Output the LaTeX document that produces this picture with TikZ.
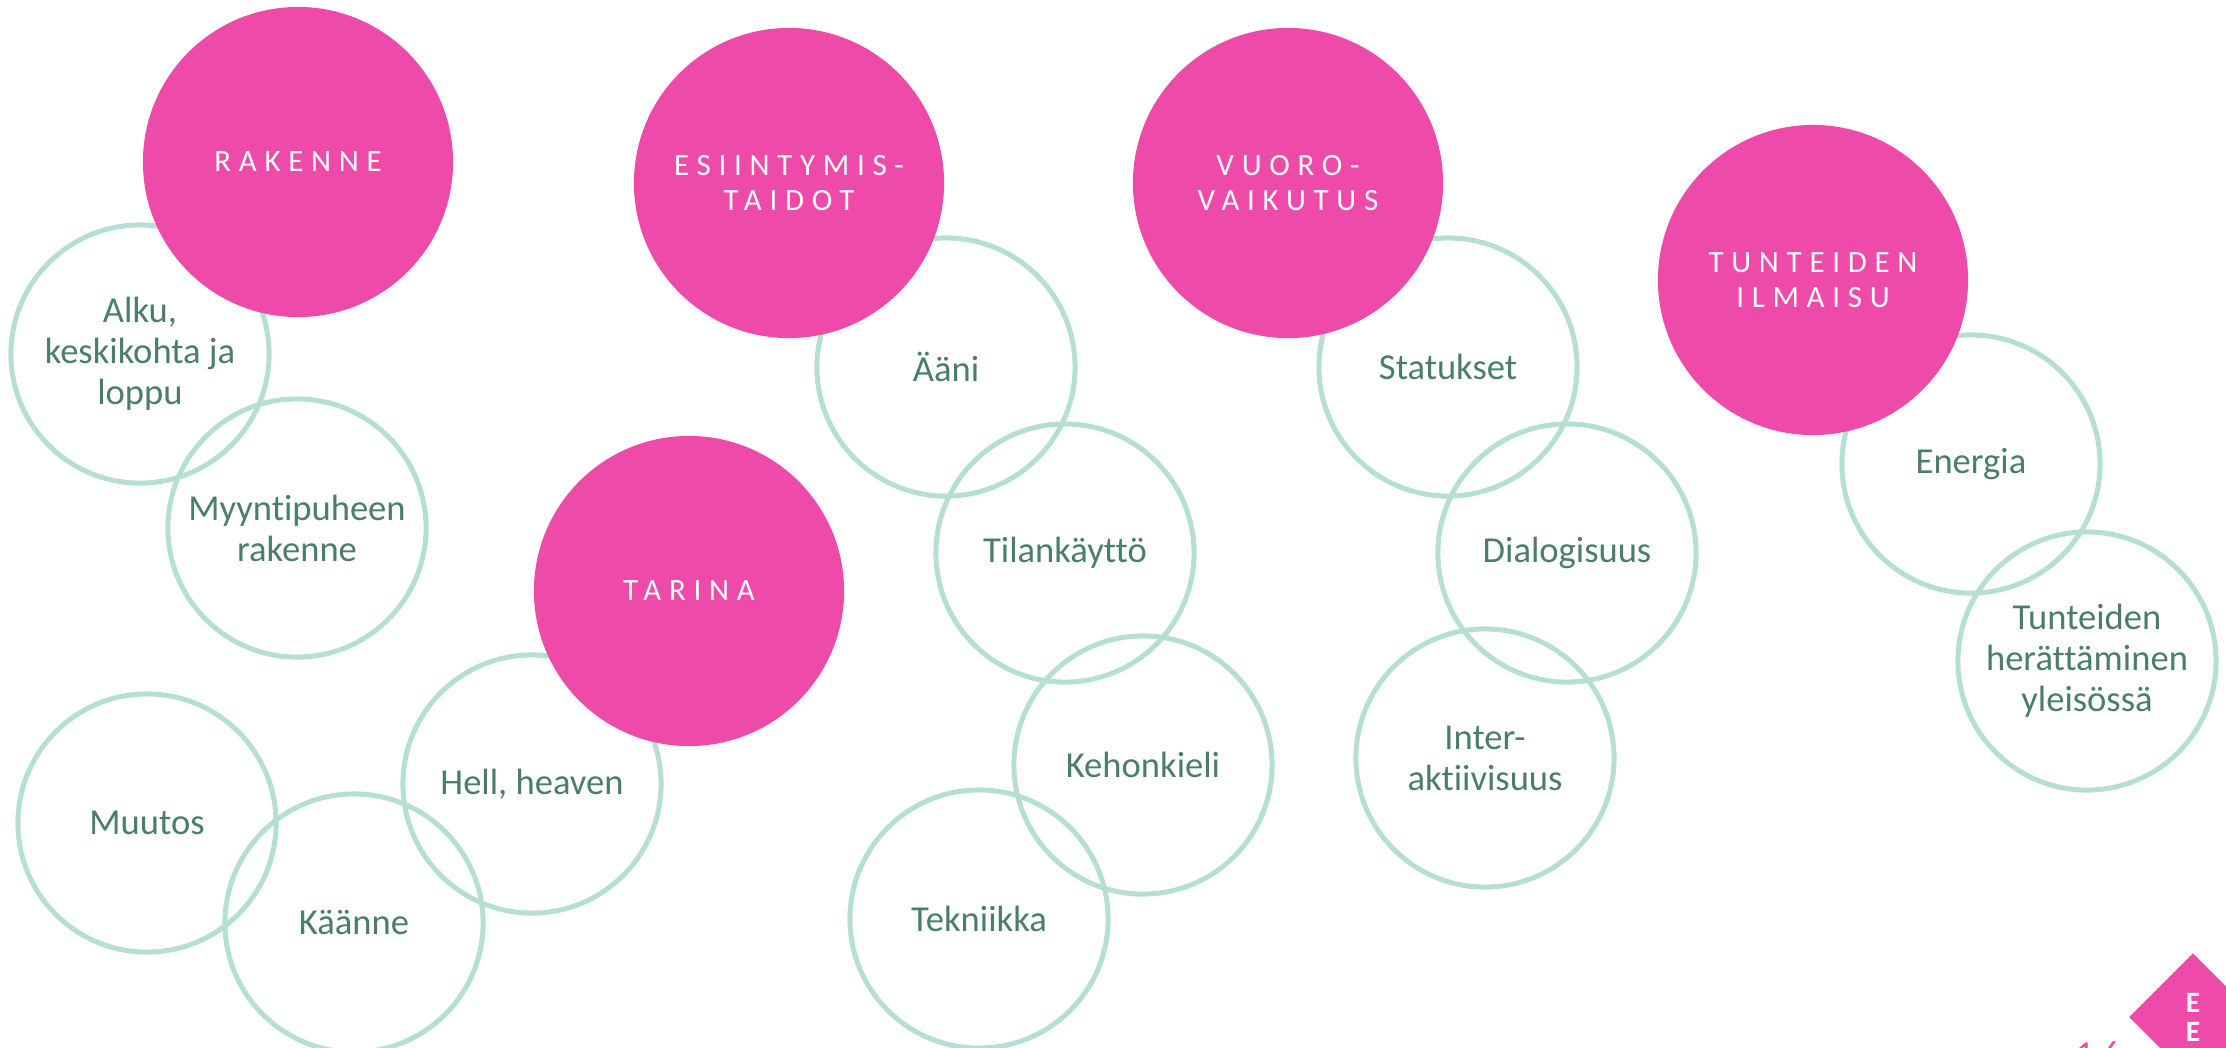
\documentclass[tikz,border=0pt]{standalone}
\usepackage{fontspec}
\usetikzlibrary{shapes.geometric}
\setmainfont{Carlito}[Ligatures={NoCommon,NoRequired}]
\newfontfamily\capsfont[LetterSpace=25]{Carlito}
\definecolor{pinkfill}{HTML}{EE4AA9}
\definecolor{mintline}{HTML}{B5DFD2}
\definecolor{greentext}{HTML}{4B7D6C}

\begin{document}
\begin{tikzpicture}[x=0.01cm, y=-0.01cm,
    topic/.style={circle, fill=pinkfill, minimum size=3.1cm, inner sep=0pt, text=white, align=center, font=\capsfont\fontsize{8.8}{10}\selectfont},
    item/.style={circle, draw=mintline, line width=0.05cm, minimum size=2.58cm, inner sep=0pt, text=greentext, align=center, font=\fontsize{10.4}{11.7}\selectfont}]
      \useasboundingbox (0,0) rectangle (2226,1047);
      \clip (0,0) rectangle (2226,1047);

      \node[item] (alku) at (140,354) {Alku,\\keskikohta ja\\loppu};
      \node[item] (myy) at (297,528) {Myyntipuheen\\rakenne};
      \node[item] (muu) at (147,823) {Muutos};
      \node[item] (kaa) at (354,923) {Käänne};
      \node[item] (hel) at (532,784) {Hell, heaven};
      \node[item] (aan) at (946,367) {Ääni};
      \node[item] (til) at (1065,553) {Tilankäyttö};
      \node[item] (keh) at (1143,765) {Kehonkieli};
      \node[item] (tek) at (979,919) {Tekniikka};
      \node[item] (sta) at (1448,367) {Statukset};
      \node[item] (dia) at (1567,553) {Dialogisuus};
      \node[item] (int) at (1485,758) {Inter-\\aktiivisuus};
      \node[item] (ene) at (1971,464) {Energia};
      \node[item] (her) at (2087,661) {Tunteiden\\herättäminen\\yleisössä};

      \node[topic] (rak) at (298,162) {RAKENNE};
      \node[topic] (esi) at (789,183) {ESIINTYMIS-\\TAIDOT};
      \node[topic] (vuo) at (1288,183) {VUORO-\\VAIKUTUS};
      \node[topic] (tun) at (1813,280) {TUNTEIDEN\\ILMAISU};
      \node[topic] (tar) at (689,591) {TARINA};

      \node[diamond, fill=pinkfill, minimum size=1.28cm, inner sep=0pt, text=white, align=center, font=\bfseries\fontsize{8.4}{8.3}\selectfont] (logo) at (2193,1017) {E\\E};
      \node[anchor=north, inner sep=0pt, text=pinkfill, font=\capsfont\fontsize{10}{12}\selectfont] (page) at (2098,1041) {16};
    \end{tikzpicture}
\end{document}
